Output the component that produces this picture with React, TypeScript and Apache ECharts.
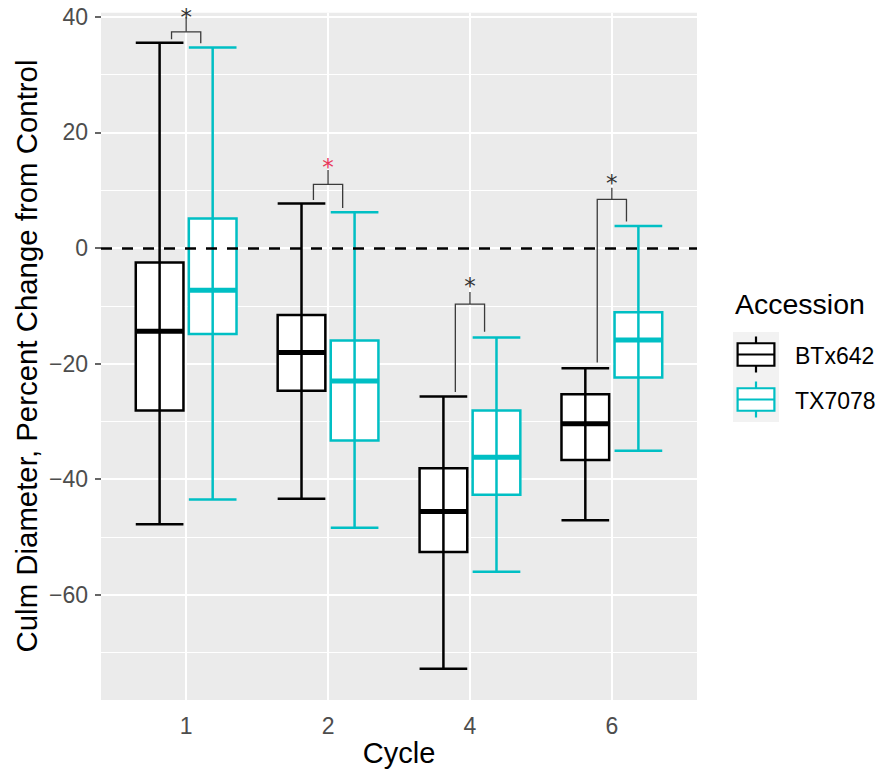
import React, { useEffect, useRef } from 'react';
import * as echarts from 'echarts';

// ---------- data ----------
const cycles = ['1', '2', '4', '6'];
const accessions = ['BTx642', 'TX7078'];
// each row: [lower whisker, Q1, median, Q3, upper whisker]
const btx642Stats = [
  [-47.8, -28.1, -14.4, -2.5, 35.5],
  [-43.4, -24.7, -18.1, -11.6, 7.7],
  [-72.8, -52.6, -45.6, -38.1, -25.7],
  [-47.1, -36.7, -30.4, -25.3, -20.8],
];
const tx7078Stats = [
  [-43.5, -14.9, -7.3, 5.1, 34.7],
  [-48.4, -33.3, -23.0, -16.0, 6.2],
  [-56.0, -42.7, -36.2, -28.1, -15.5],
  [-35.1, -22.4, -15.9, -11.1, 3.8],
];
const yTicks = [-60, -40, -20, 0, 20, 40];
const yMinorGrid = [-70, -50, -30, -10, 10, 30];
const referenceLine = 0;
// significance brackets per cycle
const sigLeftEnd = [36.1, 8.3, -24.9, -19.8];
const sigRightEnd = [35.4, 6.9, -14.5, 4.6];
const sigBracket = [37.4, 11.0, -9.7, 8.4];
const sigStemTop = [39.9, 13.5, -7.6, 10.4];
const sigStar = [40.9, 14.9, -5.8, 12.1];
const sigHighlighted = [false, true, false, false];

// ---------- styles ----------
const FONT = '"Liberation Sans", Arial, Helvetica, sans-serif';
const COLORS = ['#000000', '#00BFC4'];
const PANEL = { left: 101, top: 12.7, width: 596, height: 687.3 };

const fmt = (v: number) => (v < 0 ? '\u2212' + Math.abs(v) : String(v));

function boxRenderer(color: string, offset: number) {
  return (params: any, api: any) => {
    const x = api.value(0);
    const low = api.value(1), q1 = api.value(2), med = api.value(3), q3 = api.value(4), high = api.value(5);
    const band = api.size([1, 0])[0];
    const cx = api.coord([x, med])[0] + offset * band;
    const hw = 0.168 * band;
    const yLow = api.coord([x, low])[1];
    const yQ1 = api.coord([x, q1])[1];
    const yMed = api.coord([x, med])[1];
    const yQ3 = api.coord([x, q3])[1];
    const yHigh = api.coord([x, high])[1];
    const lw = 2.5;
    return {
      type: 'group',
      children: [
        { type: 'rect', shape: { x: cx - hw, y: yQ3, width: 2 * hw, height: yQ1 - yQ3 }, style: { fill: '#ffffff', stroke: color, lineWidth: lw } },
        { type: 'line', shape: { x1: cx - hw, y1: yMed, x2: cx + hw, y2: yMed }, style: { stroke: color, lineWidth: 5 } },
        { type: 'line', shape: { x1: cx, y1: yHigh, x2: cx, y2: yLow }, style: { stroke: color, lineWidth: lw } },
        { type: 'line', shape: { x1: cx - hw, y1: yHigh, x2: cx + hw, y2: yHigh }, style: { stroke: color, lineWidth: lw } },
        { type: 'line', shape: { x1: cx - hw, y1: yLow, x2: cx + hw, y2: yLow }, style: { stroke: color, lineWidth: lw } },
      ],
    };
  };
}

function sigRenderer(params: any, api: any) {
  const x = api.value(0);
  const band = api.size([1, 0])[0];
  const cx = api.coord([x, 0])[0];
  const lx = cx - 0.103 * band;
  const rx = cx + 0.103 * band;
  const yL = api.coord([x, api.value(1)])[1];
  const yR = api.coord([x, api.value(2)])[1];
  const yB = api.coord([x, api.value(3)])[1];
  const yS = api.coord([x, api.value(4)])[1];
  const yStar = api.coord([x, api.value(5)])[1];
  const hl = api.value(6) === 1;
  const stroke = '#3a3a3a';
  return {
    type: 'group',
    children: [
      { type: 'polyline', shape: { points: [[lx, yL], [lx, yB], [rx, yB], [rx, yR]] }, style: { stroke, lineWidth: 1.3, fill: null } },
      { type: 'line', shape: { x1: cx, y1: yB, x2: cx, y2: yS }, style: { stroke, lineWidth: 1.3 } },
      { type: 'text', x: cx, y: yStar + 5, style: { text: '*', fill: hl ? '#E8365A' : '#333333', fontSize: 23, fontFamily: '"DejaVu Sans", sans-serif', align: 'center', verticalAlign: 'middle' } },
    ],
  };
}

export default function App() {
  const ref = useRef<HTMLDivElement>(null);
  useEffect(() => {
    document.body.style.margin = '0';
    if (!ref.current) return;
    const chart = echarts.init(ref.current, null, { renderer: 'svg' });

    const boxData = (stats: number[][]) => stats.map((s, i) => [i + 1, ...s]);
    const sigData = cycles.map((_, i) => [i + 1, sigLeftEnd[i], sigRightEnd[i], sigBracket[i], sigStemTop[i], sigStar[i], sigHighlighted[i] ? 1 : 0]);

    const gridLines = [
      ...yTicks.map((v) => ({ yAxis: v, lineStyle: { color: '#ffffff', width: 2, type: 'solid' } })),
      ...yMinorGrid.map((v) => ({ yAxis: v, lineStyle: { color: '#ffffff', width: 1, type: 'solid' } })),
      ...cycles.map((_, i) => ({ xAxis: i + 1, lineStyle: { color: '#ffffff', width: 2, type: 'solid' } })),
    ];

    const keyCenters = [354.5, 399.5];
    const legendChildren: any[] = [
      { type: 'text', x: 735, y: 304, style: { text: 'Accession', fontSize: 28.5, fontFamily: FONT, fill: '#000', align: 'left', verticalAlign: 'middle' } },
      { type: 'rect', shape: { x: 733, y: 332, width: 46, height: 90 }, style: { fill: '#F2F2F2' } },
    ];
    accessions.forEach((name, i) => {
      const cy = keyCenters[i];
      const c = COLORS[i];
      legendChildren.push(
        { type: 'line', shape: { x1: 756, y1: cy - 18, x2: 756, y2: cy + 18 }, style: { stroke: c, lineWidth: 2.2 } },
        { type: 'rect', shape: { x: 737.6, y: cy - 11.25, width: 36.8, height: 22.5 }, style: { fill: '#fff', stroke: c, lineWidth: 2.2 } },
        { type: 'line', shape: { x1: 737.6, y1: cy, x2: 774.4, y2: cy }, style: { stroke: c, lineWidth: 2.2 } },
        { type: 'text', x: 795, y: cy + 1, style: { text: name, fontSize: 23, fontFamily: FONT, fill: '#000', align: 'left', verticalAlign: 'middle' } },
      );
    });

    chart.setOption({
      animation: false,
      grid: { ...PANEL, show: true, backgroundColor: '#EBEBEB', borderWidth: 0 },
      xAxis: {
        type: 'value',
        min: 0.4,
        max: 4.6,
        axisLine: { show: false },
        splitLine: { show: false },
        axisTick: { show: true, customValues: [1, 2, 3, 4], length: 7, lineStyle: { color: '#333333', width: 1.5 } },
        axisLabel: { customValues: [1, 2, 3, 4], formatter: (v: number) => cycles[Math.round(v) - 1] ?? '', fontSize: 23, color: '#4D4D4D', fontFamily: FONT, margin: 14 },
      },
      yAxis: {
        type: 'value',
        min: -78.2,
        max: 40.7,
        axisLine: { show: false },
        splitLine: { show: false },
        axisTick: { show: true, customValues: yTicks, length: 6, lineStyle: { color: '#333333', width: 1.5 } },
        axisLabel: { customValues: yTicks, formatter: (v: number) => fmt(v), fontSize: 23, color: '#4D4D4D', fontFamily: FONT, margin: 13 },
      },
      graphic: [
        { type: 'text', x: 399, y: 753, style: { text: 'Cycle', fontSize: 29, fontFamily: FONT, fill: '#000', align: 'center', verticalAlign: 'middle' } },
        { type: 'text', x: 26, y: 356, rotation: Math.PI / 2, style: { text: 'Culm Diameter, Percent Change from Control', fontSize: 29.4, fontFamily: FONT, fill: '#000', align: 'center', verticalAlign: 'middle' } },
        ...legendChildren,
      ],
      series: [
        {
          name: accessions[0],
          type: 'custom',
          z: 2,
          renderItem: boxRenderer(COLORS[0], -0.187),
          data: boxData(btx642Stats),
          markLine: { silent: true, z: 1, symbol: ['none', 'none'], label: { show: false }, data: gridLines },
        },
        {
          name: accessions[1],
          type: 'custom',
          z: 2,
          renderItem: boxRenderer(COLORS[1], 0.187),
          data: boxData(tx7078Stats),
        },
        {
          name: 'significance',
          type: 'custom',
          z: 4,
          renderItem: sigRenderer,
          data: sigData,
          markLine: {
            silent: true,
            z: 3,
            symbol: ['none', 'none'],
            label: { show: false },
            data: [{ yAxis: referenceLine, lineStyle: { color: '#000000', width: 2.6, type: [11, 10] } }],
          },
        },
      ],
    });
    return () => chart.dispose();
  }, []);
  return <div ref={ref} style={{ width: 882, height: 773 }} />;
}
